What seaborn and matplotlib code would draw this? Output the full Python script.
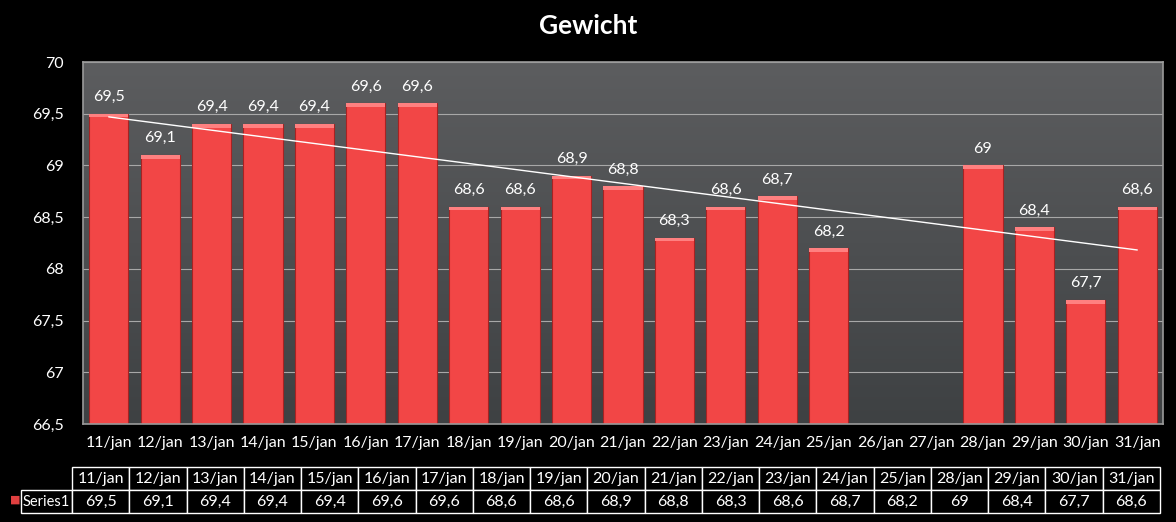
import numpy as np
import pandas as pd
import matplotlib
matplotlib.use("Agg")
import matplotlib.pyplot as plt
import seaborn as sns
from matplotlib.colors import LinearSegmentedColormap
from matplotlib.patches import Rectangle
from matplotlib.ticker import FuncFormatter

# chart data
dates = ["11/jan", "12/jan", "13/jan", "14/jan", "15/jan", "16/jan", "17/jan",
         "18/jan", "19/jan", "20/jan", "21/jan", "22/jan", "23/jan", "24/jan",
         "25/jan", "26/jan", "27/jan", "28/jan", "29/jan", "30/jan", "31/jan"]
weights = [69.5, 69.1, 69.4, 69.4, 69.4, 69.6, 69.6, 68.6, 68.6, 68.9, 68.8,
           68.3, 68.6, 68.7, 68.2, None, None, 69.0, 68.4, 67.7, 68.6]
# the data table under the chart (as in the original, its headers are shifted)
table_headers = ["11/jan", "12/jan", "13/jan", "14/jan", "15/jan", "16/jan", "17/jan",
                 "18/jan", "19/jan", "20/jan", "21/jan", "22/jan", "23/jan", "24/jan",
                 "25/jan", "28/jan", "29/jan", "30/jan", "31/jan"]
table_values = ["69,5", "69,1", "69,4", "69,4", "69,4", "69,6", "69,6", "68,6", "68,6",
                "68,9", "68,8", "68,3", "68,6", "68,7", "68,2", "69", "68,4", "67,7", "68,6"]

def comma(v):
    return f"{v:g}".replace(".", ",")

df = pd.DataFrame({"datum": dates, "gewicht": weights})

sns.set_style("dark")
plt.rcParams["font.family"] = ["Lato", "DejaVu Sans"]

fig = plt.figure(figsize=(11.76, 5.22), dpi=100, facecolor="black")
ax = fig.add_axes([83/1176, 98/522, 1080/1176, 362/522])

# grey gradient plot area
grad = np.linspace(0, 1, 256).reshape(-1, 1)
cmap = LinearSegmentedColormap.from_list("bg", ["#5c5d5f", "#3e4143"])
ax.imshow(grad, extent=[0, 1, 0, 1], transform=ax.transAxes, aspect="auto",
          cmap=cmap, zorder=0)

sns.barplot(data=df, x="datum", y="gewicht", order=dates, color="#f24646",
            width=0.76, saturation=1, edgecolor="#a82222", linewidth=0.8,
            ax=ax, zorder=2)

# light bevel at the top of each bar + value labels
bars = [p for p in ax.containers[0] if p is not None and np.isfinite(p.get_height())]
for p in bars:
    h = p.get_height()
    ax.add_patch(Rectangle((p.get_x(), h - 0.035), p.get_width(), 0.035,
                           facecolor="#ff8080", edgecolor="none", zorder=3))
    ax.annotate(comma(round(h, 1)), (p.get_x() + p.get_width()/2, h),
                xytext=(0, 7), textcoords="offset points", ha="center", va="bottom",
                color="white", fontsize=11.5, zorder=5)

# linear trendline
y = df["gewicht"].astype(float)
xs = np.arange(len(dates))
ok = ~y.isna()
k, b = np.polyfit(xs[ok], y[ok], 1)
ax.plot([xs[0], xs[-1]], [k*xs[0] + b, k*xs[-1] + b], color="white", lw=1, zorder=4)

ax.set_ylim(66.5, 70)
ax.set_xlim(-0.5, len(dates) - 0.5)
ax.set_yticks(np.arange(66.5, 70.01, 0.5))
ax.yaxis.set_major_formatter(FuncFormatter(lambda v, _: comma(v)))
ax.grid(axis="y", color="#a8a8a8", lw=0.8)
ax.grid(axis="x", visible=False)
ax.set_axisbelow(True)
ax.tick_params(axis="y", colors="white", labelsize=11.5, length=0, pad=14)
ax.tick_params(axis="x", colors="white", labelsize=11.5, length=0, pad=9)
ax.set_xlabel("")
ax.set_ylabel("")
for s in ax.spines.values():
    s.set_color("#9a9a9a")
    s.set_linewidth(1.2)
    s.set_visible(True)

fig.text(0.5, 0.95, "Gewicht", color="white", fontsize=19, fontweight="bold",
         ha="center", va="center")

# data table below
tax = fig.add_axes([72/1176, 9/522, 1088/1176, 46/522])
tax.axis("off")
tab = tax.table(cellText=[table_values], colLabels=table_headers,
                rowLabels=["Series1"], cellLoc="center", rowLoc="right",
                bbox=[0, 0, 1, 1])
tab.auto_set_font_size(False)
for (r, c), cell in tab.get_celld().items():
    cell.set_facecolor("black")
    cell.set_edgecolor("white")
    cell.set_linewidth(1)
    cell.get_text().set_color("white")
    cell.get_text().set_fontsize(11.5)
    if c == -1:
        cell.set_width(64/1088)
        cell.PAD = 0.04
        cell.get_text().set_fontsize(10.5)
fig.text(10/1176, (522-500)/522, "■", color="#e04040", fontsize=8, va="center",
         family=["DejaVu Sans"])

fig.savefig("out.png", dpi=100, facecolor="black")
